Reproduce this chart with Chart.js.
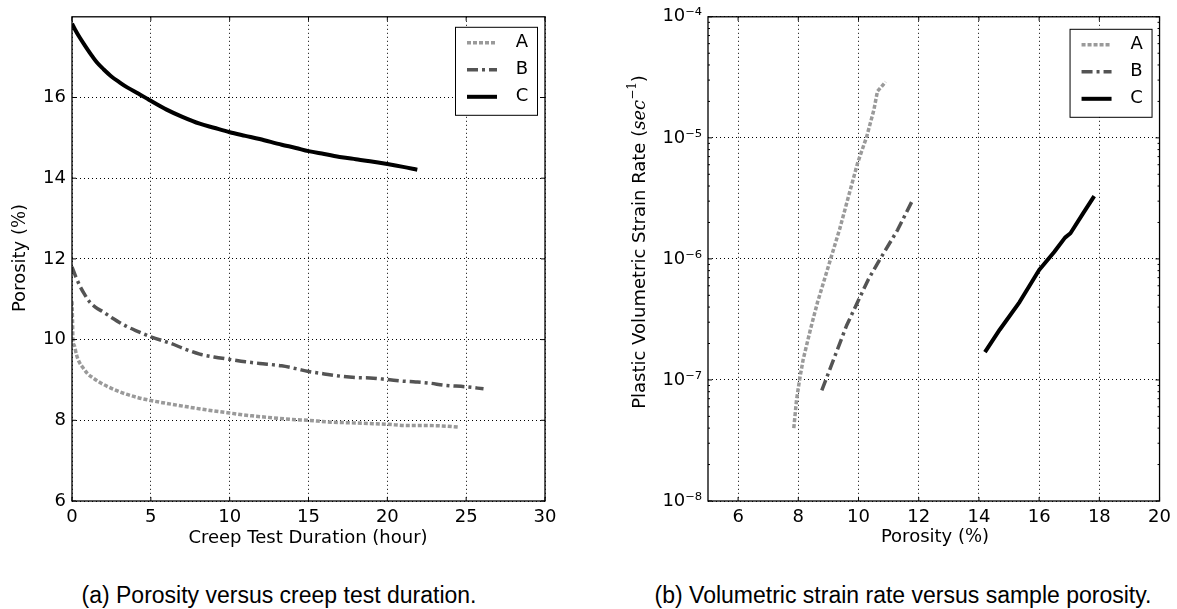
<!DOCTYPE html>
<html><head><meta charset="utf-8">
<script src="https://cdn.jsdelivr.net/npm/chart.js@4.4.0/dist/chart.umd.min.js"></script>
<style>
html,body{margin:0;padding:0;background:#fff;width:1177px;height:609px;overflow:hidden;}
.box{position:absolute;}
.cap{position:absolute;font-family:"Liberation Sans",Arial,sans-serif;font-size:23px;line-height:26px;color:#000;white-space:nowrap;transform:translateX(-50%);}
</style></head><body>
<div class="box" style="left:0;top:0;width:580px;height:560px"><canvas id="c1" width="580" height="560"></canvas></div>
<div class="box" style="left:590px;top:0;width:587px;height:560px"><canvas id="c2" width="587" height="560"></canvas></div>
<div class="cap" style="left:279px;top:582px">(a) Porosity versus creep test duration.</div>
<div class="cap" style="left:903px;top:582px">(b) Volumetric strain rate versus sample porosity.</div>
<script>
// ---------- data: chart (a) porosity vs creep time ----------
const seriesNames = ['A', 'B', 'C'];
const hoursA    = [0, 0.03, 0.06, 0.15, 0.28, 0.45, 0.7, 1.0, 1.3, 1.8, 2.4, 3.2, 4.2, 5.0, 6.0, 7.2, 8.5, 10.0, 11.4, 12.8, 14.0, 15.0, 16.2, 17.5, 18.8, 20.0, 21.3, 22.5, 23.5, 24.5];
const porosityA = [10.95, 10.5, 10.0, 9.85, 9.63, 9.45, 9.3, 9.15, 9.06, 8.93, 8.81, 8.68, 8.56, 8.49, 8.42, 8.34, 8.26, 8.18, 8.11, 8.06, 8.02, 8.0, 7.96, 7.94, 7.92, 7.9, 7.87, 7.87, 7.86, 7.83];
const hoursB    = [0, 0.25, 0.5, 0.8, 1.13, 1.5, 2.0, 2.5, 3.5, 4.2, 5.0, 6.3, 7.2, 8.1, 9.0, 10.0, 11.0, 11.9, 13.3, 14.2, 15.0, 16.0, 17.1, 18.0, 18.9, 20.0, 21.0, 21.8, 22.7, 23.6, 25.0, 26.1];
const porosityB = [11.8, 11.55, 11.33, 11.12, 10.93, 10.8, 10.68, 10.55, 10.32, 10.2, 10.07, 9.9, 9.76, 9.64, 9.57, 9.51, 9.45, 9.41, 9.35, 9.28, 9.21, 9.15, 9.09, 9.06, 9.05, 9.01, 8.97, 8.95, 8.92, 8.87, 8.83, 8.78];
const hoursC    = [0, 0.2, 0.5, 0.8, 1.2, 1.6, 2.0, 2.5, 3.0, 3.5, 4.2, 4.9, 6.0, 7.0, 8.1, 9.0, 10.0, 11.0, 11.9, 13.3, 14.2, 15.0, 16.0, 17.1, 18.0, 18.9, 20.0, 21.0, 21.9];
const porosityC = [17.83, 17.68, 17.48, 17.3, 17.07, 16.86, 16.7, 16.52, 16.38, 16.25, 16.1, 15.94, 15.7, 15.52, 15.35, 15.25, 15.14, 15.05, 14.97, 14.83, 14.75, 14.67, 14.6, 14.52, 14.47, 14.42, 14.35, 14.28, 14.21];
const xTicksA = [0, 5, 10, 15, 20, 25, 30];
const yTicksA = [6, 8, 10, 12, 14, 16];

// ---------- data: chart (b) strain rate vs porosity ----------
const porA  = [7.85, 7.94, 8.04, 8.16, 8.4, 8.64, 9.0, 9.37, 9.67, 9.97, 10.27, 10.51, 10.63, 10.9];
const rateA = [4e-8, 6.8e-8, 1e-7, 1.47e-7, 2.6e-7, 4.4e-7, 8.7e-7, 1.75e-6, 3.3e-6, 6.2e-6, 1.02e-5, 1.7e-5, 2.43e-5, 2.9e-5];
const porB  = [8.78, 9.0, 9.25, 9.6, 9.97, 10.33, 10.7, 11.3, 11.78];
const rateB = [8.2e-8, 1.14e-7, 1.66e-7, 2.8e-7, 4.4e-7, 6.8e-7, 9.8e-7, 1.74e-6, 3.0e-6];
const porC  = [14.2, 14.69, 15.35, 16.0, 16.5, 16.86, 17.04, 17.47, 17.83];
const rateC = [1.7e-7, 2.6e-7, 4.4e-7, 8.1e-7, 1.14e-6, 1.5e-6, 1.63e-6, 2.4e-6, 3.3e-6];
const xTicksB = [6, 8, 10, 12, 14, 16, 18, 20];
const yTicksB = [1e-8, 1e-7, 1e-6, 1e-5, 1e-4];
const yTickLabelsB = ['10\u207B\u2078', '10\u207B\u2077', '10\u207B\u2076', '10\u207B\u2075', '10\u207B\u2074'];

// ---------- styles ----------
const lineStyles = [
  { color: '#9a9a9a', dash: [4, 2], width: 3.5 },
  { color: '#545454', dash: [11, 4, 3, 4], width: 3.5 },
  { color: '#000000', dash: [], width: 4 }
];
const FONT = '"DejaVu Sans", sans-serif';
const MATH = '"DejaVu Serif", serif';

function pts(xs, ys) { return xs.map((x, i) => ({ x: x, y: ys[i] })); }
function makeDatasets(pairs, smooth) {
  return pairs.map((p, i) => ({
    label: seriesNames[i], data: pts(p[0], p[1]),
    borderColor: lineStyles[i].color, borderWidth: lineStyles[i].width,
    borderDash: lineStyles[i].dash, pointRadius: 0, tension: 0, fill: false,
    cubicInterpolationMode: smooth ? 'monotone' : 'default',
    borderCapStyle: 'butt', borderJoinStyle: 'round'
  }));
}
function drawParts(ctx, parts, cx, cy, rot) {
  ctx.save(); ctx.translate(cx, cy); ctx.rotate(rot);
  ctx.textBaseline = 'middle'; ctx.textAlign = 'left'; ctx.fillStyle = '#000';
  let total = 0;
  parts.forEach(p => { ctx.font = p.font; p.w = ctx.measureText(p.t).width; total += p.w; });
  let x = -total / 2;
  parts.forEach(p => { ctx.font = p.font; ctx.fillText(p.t, x, p.dy || 0); x += p.w; });
  ctx.restore();
}
function decor(cfg) {
  return {
    id: 'decor',
    afterDatasetsDraw(chart) {
      const ctx = chart.ctx, a = chart.chartArea;
      const xs = chart.scales.x, ys = chart.scales.y;
      ctx.save();
      ctx.strokeStyle = '#000'; ctx.lineWidth = 1;
      ctx.beginPath();
      const tick = (x1, y1, x2, y2) => { ctx.moveTo(x1, y1); ctx.lineTo(x2, y2); };
      cfg.xMajor.forEach(v => { const p = xs.getPixelForValue(v); tick(p, a.bottom, p, a.bottom - 4); tick(p, a.top, p, a.top + 4); });
      cfg.yMajor.forEach(v => { const p = ys.getPixelForValue(v); tick(a.left, p, a.left + 4, p); tick(a.right, p, a.right - 4, p); });
      (cfg.yMinor || []).forEach(v => { const p = ys.getPixelForValue(v); tick(a.left, p, a.left + 2, p); tick(a.right, p, a.right - 2, p); });
      ctx.stroke();
      ctx.lineWidth = 1.3;
      ctx.strokeRect(a.left, a.top, a.right - a.left, a.bottom - a.top);
      // legend
      const bw = 82, bh = 88;
      const bx = a.right - 8 - bw, by = a.top + cfg.legendTop;
      ctx.fillStyle = '#fff'; ctx.fillRect(bx, by, bw, bh);
      ctx.lineWidth = 1; ctx.strokeStyle = '#000'; ctx.strokeRect(bx + 0.5, by + 0.5, bw, bh);
      chart.data.datasets.forEach((ds, i) => {
        const y = by + 16 + i * 27;
        ctx.save();
        ctx.strokeStyle = ds.borderColor; ctx.lineWidth = ds.borderWidth; ctx.setLineDash(ds.borderDash);
        ctx.lineCap = 'butt';
        ctx.beginPath(); ctx.moveTo(bx + 12, y); ctx.lineTo(bx + 42, y); ctx.stroke();
        ctx.restore();
        ctx.fillStyle = '#000'; ctx.font = '18px ' + FONT; ctx.textAlign = 'center'; ctx.textBaseline = 'middle';
        ctx.fillText(ds.label, bx + 67, y);
      });
      ctx.restore();
    },
    afterDraw(chart) {
      const ctx = chart.ctx;
      drawParts(ctx, cfg.xTitle, cfg.xTitlePos[0], cfg.xTitlePos[1], 0);
      drawParts(ctx, cfg.yTitle, cfg.yTitlePos[0], cfg.yTitlePos[1], -Math.PI / 2);
    }
  };
}
function axisBase(extra) {
  return Object.assign({
    grid: { color: '#000', lineWidth: 1, drawTicks: false },
    border: { display: false, dash: [1, 3] },
    ticks: { color: '#000', font: { family: FONT, size: 18 }, padding: 6, autoSkip: false, maxRotation: 0 }
  }, extra);
}

// ---------- chart (a) ----------
new Chart(document.getElementById('c1'), {
  type: 'line',
  data: { datasets: makeDatasets([[hoursA, porosityA], [hoursB, porosityB], [hoursC, porosityC]], true) },
  options: {
    responsive: false, animation: false, events: [],
    layout: { padding: { top: 11, right: 35, left: 0, bottom: 0 } },
    plugins: { legend: { display: false }, tooltip: { enabled: false } },
    scales: {
      x: axisBase({ type: 'linear', min: 0, max: 30,
        afterBuildTicks: s => { s.ticks = xTicksA.map(v => ({ value: v })); },
        afterFit: s => { s.height = 59; } }),
      y: axisBase({ type: 'linear', min: 6, max: 18,
        afterBuildTicks: s => { s.ticks = yTicksA.map(v => ({ value: v })); },
        afterFit: s => { s.width = 72; } })
    }
  },
  plugins: [decor({
    xMajor: xTicksA, yMajor: yTicksA, legendTop: 10,
    xTitle: [{ t: 'Creep Test Duration (hour)', font: '18px ' + FONT }], xTitlePos: [308, 538],
    yTitle: [{ t: 'Porosity (', font: '18px ' + FONT }, { t: '%', font: '18px ' + MATH }, { t: ')', font: '18px ' + FONT }],
    yTitlePos: [20, 258]
  })]
});

// ---------- chart (b) ----------
const minorB = [];
for (let d = -8; d < -4; d++) for (let k = 2; k <= 9; k++) minorB.push(k * Math.pow(10, d));
new Chart(document.getElementById('c2'), {
  type: 'line',
  data: { datasets: makeDatasets([[porA, rateA], [porB, rateB], [porC, rateC]], false) },
  options: {
    responsive: false, animation: false, events: [],
    layout: { padding: { top: 11, right: 15, left: 0, bottom: 0 } },
    plugins: { legend: { display: false }, tooltip: { enabled: false } },
    scales: {
      x: axisBase({ type: 'linear', min: 5, max: 20,
        afterBuildTicks: s => { s.ticks = xTicksB.map(v => ({ value: v })); },
        afterFit: s => { s.height = 59; } }),
      y: axisBase({ type: 'logarithmic', min: 1e-8, max: 1e-4,
        afterBuildTicks: s => { s.ticks = yTicksB.map(v => ({ value: v })); },
        ticks: { color: '#000', font: { family: FONT, size: 18 }, padding: 6, autoSkip: false,
          callback: (v) => { const i = yTicksB.findIndex(t => Math.abs(Math.log10(t) - Math.log10(v)) < 1e-6); return i >= 0 ? yTickLabelsB[i] : ''; } },
        afterFit: s => { s.width = 118; } })
    }
  },
  plugins: [decor({
    xMajor: xTicksB, yMajor: yTicksB, yMinor: minorB, legendTop: 12,
    xTitle: [{ t: 'Porosity (', font: '18px ' + FONT }, { t: '%', font: '18px ' + MATH }, { t: ')', font: '18px ' + FONT }],
    xTitlePos: [345, 537],
    yTitle: [{ t: 'Plastic Volumetric Strain Rate (', font: '18px ' + FONT },
             { t: 'sec', font: 'italic 18px ' + MATH },
             { t: '\u22121', font: '12px ' + MATH, dy: -7 },
             { t: ')', font: '18px ' + FONT }],
    yTitlePos: [50, 242]
  })]
});
</script>
</body></html>
